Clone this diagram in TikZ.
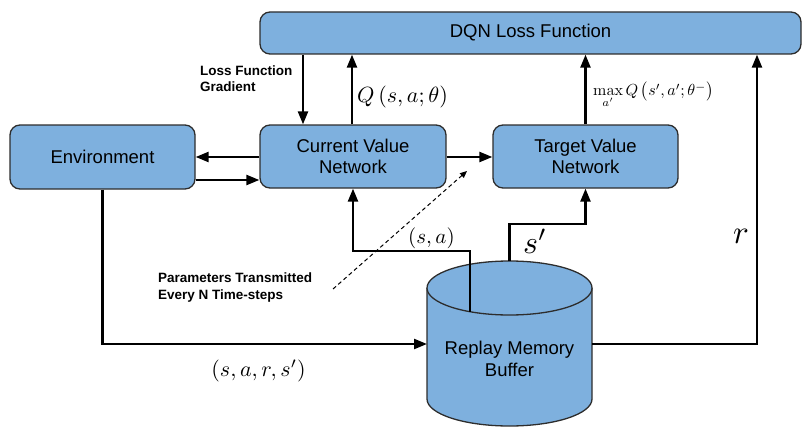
\documentclass[tikz,border=0pt]{standalone}
\usepackage[no-math]{fontspec}
\setmainfont{Liberation Sans}
\usetikzlibrary{arrows.meta}
\definecolor{boxblue}{RGB}{126,176,222}
\definecolor{edgegray}{RGB}{45,45,45}
\tikzset{
  x=1pt, y=1pt,
  block/.style={draw=edgegray, line width=1.3pt, fill=boxblue, rounded corners=10pt,
    inner sep=0pt, align=center, font=\fontsize{18.5}{21.5}\selectfont},
  flow/.style={line width=2.3pt, -{Triangle[length=13pt,width=10pt]}},
  note/.style={font=\fontsize{13.5}{16.5}\selectfont\bfseries, align=left, inner sep=0pt, anchor=west},
  mathlbl/.style={inner sep=0pt},
  cyl/.style={draw=edgegray, line width=1.3pt, fill=boxblue},
}
\begin{document}
\begin{tikzpicture}
\useasboundingbox (0,0) rectangle (803,-428);

% blocks
\node[block, minimum width=541pt, minimum height=42pt] (loss) at (530.5,-33) {DQN Loss Function};
\node[block, minimum width=185pt, minimum height=64pt] (env) at (102.5,-157) {Environment};
\node[block, minimum width=186pt, minimum height=63pt] (cur) at (353,-156.5) {Current Value\\Network};
\node[block, minimum width=185pt, minimum height=63pt] (tgt) at (585.5,-156.5) {Target Value\\Network};

% replay memory cylinder
\fill[boxblue] (427,-288) -- (427,-399) arc[start angle=180, end angle=360, x radius=82.5, y radius=27] -- (592,-288) -- cycle;
\draw[draw=edgegray, line width=1.3pt] (427,-288) -- (427,-399) arc[start angle=180, end angle=360, x radius=82.5, y radius=27] -- (592,-288);
\filldraw[cyl] (509.5,-288) ellipse[x radius=82.5, y radius=27];
\node[inner sep=0pt, align=center, font=\fontsize{18.5}{22}\selectfont] (buf) at (509.5,-359) {Replay Memory\\Buffer};
\coordinate (bufL) at (427,-344);
\coordinate (bufR) at (592,-344);
\coordinate (bufsa) at (470,-311.7);
\coordinate (bufsp) at (509.5,-261);

% helper rails
\coordinate (gx) at (303,0);
\coordinate (qx) at (352,0);
\coordinate (rx) at (757,0);
\coordinate (ya) at (0,-157);
\coordinate (yb) at (0,-180);
\coordinate (yc) at (0,-344);
\coordinate (yd) at (0,-251);
\coordinate (ye) at (0,-224);

% connectors
\draw[flow] (gx |- loss.south) -- (gx |- cur.north);
\draw[flow] (qx |- cur.north) -- (qx |- loss.south);
\draw[flow] (tgt.north) -- (tgt.north |- loss.south);
\draw[flow] (cur.west |- ya) -- (env.east |- ya);
\draw[flow] (env.east |- yb) -- (cur.west |- yb);
\draw[flow] (cur.east |- ya) -- (tgt.west |- ya);
\draw[flow] (env.south) -- (env.south |- yc) -- (bufL);
\draw[flow] (bufsa) -- (bufsa |- yd) -- (cur.south |- yd) -- (cur.south);
\draw[flow] (bufsp) -- (bufsp |- ye) -- (tgt.south |- ye) -- (tgt.south);
\draw[flow] (bufR) -- (bufR -| rx) -- (rx |- loss.south);

% parameter copy
\coordinate (pa) at (333,-289);
\coordinate (pb) at (467,-171);
\draw[line width=1pt, dash pattern=on 4pt off 3pt, -{Triangle[length=7pt,width=6pt]}] (pa) -- (pb);

% labels (math set at 10pt and scaled)
\node[mathlbl, anchor=west] (lq) at (357,-97) {\scalebox{2.2}{$Q\left(s,a;\theta\right)$}};
\node[mathlbl, anchor=west] (lmax) at (593,-95) {\scalebox{1.6}{$\max\limits_{a'} Q\,\bigl(s',a';\theta^{-}\bigr)$}};
\node[mathlbl] (lsa) at (431.5,-238) {\scalebox{2.1}{$(s,a)$}};
\node[mathlbl] (lsp) at (535,-241) {\scalebox{3.2}{$s'$}};
\node[mathlbl] (lr) at (741,-236) {\scalebox{3.3}{$r$}};
\node[mathlbl] (lt) at (258.5,-371) {\scalebox{2.2}{$(s,a,r,s')$}};
\node[note] (lg) at (200,-78.5) {Loss Function\\Gradient};
\node[note] (lp) at (158,-287.5) {Parameters Transmitted\\Every N Time-steps};
\end{tikzpicture}
\end{document}
